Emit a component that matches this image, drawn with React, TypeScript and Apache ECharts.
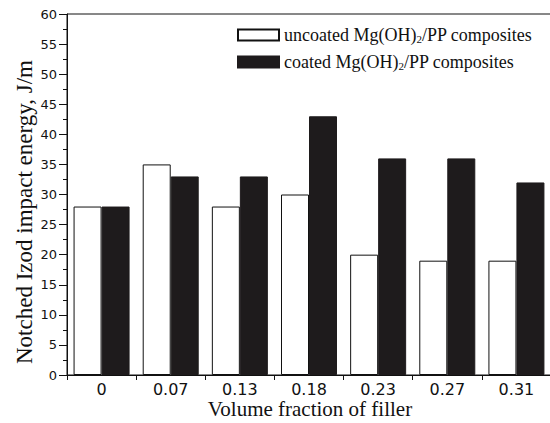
import React, { useEffect, useRef } from "react";
import * as echarts from "echarts";

const categories = ["0", "0.07", "0.13", "0.18", "0.23", "0.27", "0.31"];
const uncoated = [28, 35, 28, 30, 20, 19, 19];
const coated = [28, 33, 33, 43, 36, 36, 32];
const seriesNames = ["uncoated Mg(OH)2/PP composites", "coated Mg(OH)2/PP composites"];
const yTitle = "Notched Izod impact energy, J/m";
const xTitle = "Volume fraction of filler";

export default function App() {
  const ref = useRef<HTMLDivElement>(null);
  useEffect(() => {
    if (!ref.current) return;
    const chart = echarts.init(ref.current, null, { renderer: "svg" });
    const serif = "'Liberation Serif', 'Times New Roman', serif";
    const sans = "'DejaVu Sans', sans-serif";
    chart.setOption({
      animation: false,
      backgroundColor: "#fff",
      grid: {
        left: 67,
        top: 14,
        width: 484,
        height: 361,
        show: true,
        borderColor: "#111",
        borderWidth: 1,
        outerBoundsMode: "none",
        containLabel: false,
      },
      legend: {
        orient: "vertical",
        left: 237,
        top: 24,
        padding: 0,
        itemWidth: 41,
        itemHeight: 11,
        itemGap: 7,
        icon: "rect",
        data: seriesNames,
        formatter: (name: string) => name.replace("Mg(OH)2", "Mg(OH){sub|2}"),
        textStyle: {
          fontFamily: serif,
          fontSize: 18,
          lineHeight: 18,
          color: "#111",
          rich: {
            sub: { fontFamily: serif, fontSize: 11, lineHeight: 18, color: "#111", verticalAlign: "bottom", padding: [9, 0, 0, 0] },
          },
        },
      },
      graphic: [
        {
          type: "text",
          x: 24,
          y: 212,
          rotation: Math.PI / 2,
          style: {
            text: yTitle,
            fontFamily: serif,
            fontSize: 23,
            fill: "#111",
            align: "center",
            verticalAlign: "middle",
          },
        },
        {
          type: "text",
          x: 310,
          y: 409,
          style: {
            text: xTitle,
            fontFamily: serif,
            fontSize: 21,
            fill: "#111",
            align: "center",
            verticalAlign: "middle",
          },
        },
      ],
      xAxis: {
        type: "category",
        data: categories,
        axisLine: { lineStyle: { color: "#111", width: 1 } },
        axisTick: { show: true, length: 5, lineStyle: { color: "#111" } },
        axisLabel: { color: "#111", fontSize: 16, fontFamily: sans, margin: 6 },
      },
      yAxis: {
        type: "value",
        min: 0,
        max: 60,
        interval: 5,
        axisLine: { show: true, lineStyle: { color: "#111", width: 1 } },
        axisTick: { show: true, length: 8, lineStyle: { color: "#111" } },
        minorTick: { show: true, splitNumber: 2, length: 4, lineStyle: { color: "#111" } },
        splitLine: { show: false },
        axisLabel: { color: "#111", fontSize: 13, fontFamily: sans, margin: 10 },
      },
      series: [
        {
          name: seriesNames[0],
          type: "bar",
          data: uncoated,
          barWidth: 28,
          barGap: "0%",
          itemStyle: { color: "#fff", borderColor: "#111", borderWidth: 1 },
        },
        {
          name: seriesNames[1],
          type: "bar",
          data: coated,
          barWidth: 28,
          barGap: "0%",
          itemStyle: { color: "#1e1b1c", borderColor: "#1e1b1c", borderWidth: 1 },
        },
      ],
    });
    return () => chart.dispose();
  }, []);
  return <div ref={ref} style={{ width: 550, height: 423, position: "absolute", left: 0, top: 0 }} />;
}
